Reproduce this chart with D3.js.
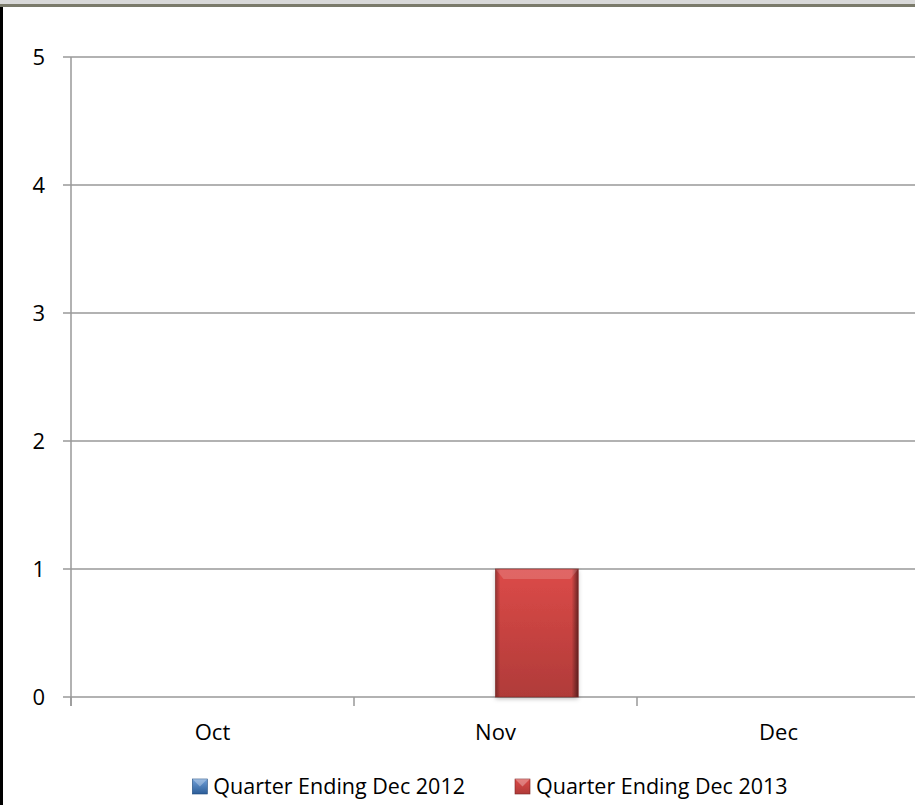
<!DOCTYPE html>
<html><head><meta charset="utf-8">
<script src="https://cdn.jsdelivr.net/npm/d3@7"></script>
<style>body{margin:0;background:#fff;} svg{display:block;}</style>
</head><body><svg id="c" width="915" height="805"></svg>
<script>
const categories = ["Oct","Nov","Dec"];
const seriesNames = ["Quarter Ending Dec 2012","Quarter Ending Dec 2013"];
const series2012 = [0,0,0];
const series2013 = [0,1,0];
const yTicks = [0,1,2,3,4,5];

const svg = d3.select("#c");
const font = "Open Sans, sans-serif";
const fs = 22;
// frame
svg.append("rect").attr("x",0).attr("y",0).attr("width",915).attr("height",4).attr("fill","#d9d9d9");
svg.append("rect").attr("x",0).attr("y",4).attr("width",915).attr("height",3).attr("fill","#7b7b6b");
svg.append("rect").attr("x",0).attr("y",7).attr("width",3).attr("height",798).attr("fill","#000");

const x0 = d3.scaleBand().domain(categories).range([71,920]);
const x1 = d3.scaleBand().domain([0,1]).range([0,x0.bandwidth()]).paddingInner(0).paddingOuter(0.71);
const y = d3.scaleLinear().domain([0,5]).range([697,57]);

const defs = svg.append("defs");
const colors = [{light:"#6f9fd8",dark:"#2c5d98",edge:"#1f4a7e"},{light:"#dc4a48",dark:"#b03b39",edge:"#7a2422"}];
colors.forEach((c,i)=>{
  const g = defs.append("linearGradient").attr("id","g"+i).attr("x1",0).attr("y1",0).attr("x2",0).attr("y2",1);
  g.append("stop").attr("offset","0%").attr("stop-color",c.light);
  g.append("stop").attr("offset","100%").attr("stop-color",c.dark);
  const h = defs.append("linearGradient").attr("id","h"+i).attr("x1",0).attr("y1",0).attr("x2",1).attr("y2",0);
  h.append("stop").attr("offset","0%").attr("stop-color","#000").attr("stop-opacity",0.3);
  h.append("stop").attr("offset","6%").attr("stop-color","#000").attr("stop-opacity",0);
  h.append("stop").attr("offset","92%").attr("stop-color","#000").attr("stop-opacity",0);
  h.append("stop").attr("offset","100%").attr("stop-color","#000").attr("stop-opacity",0.5);
});
const sh = defs.append("filter").attr("id","sh").attr("x","-20%").attr("y","-20%").attr("width","140%").attr("height","140%");
sh.append("feDropShadow").attr("dx",0).attr("dy",2).attr("stdDeviation",2).attr("flood-color","#000").attr("flood-opacity",0.25);

// gridlines
svg.append("g").selectAll("line").data(yTicks).join("line")
  .attr("x1",63).attr("x2",915).attr("y1",d=>y(d)).attr("y2",d=>y(d))
  .attr("stroke","#999").attr("stroke-width",1.5);
// y axis
svg.append("line").attr("x1",71).attr("x2",71).attr("y1",57).attr("y2",706).attr("stroke","#999").attr("stroke-width",1.5);
svg.append("g").selectAll("text").data(yTicks).join("text")
  .attr("x",45).attr("y",d=>y(d)).attr("dy","0.35em").attr("text-anchor","end")
  .attr("font-family",font).attr("font-size",fs).attr("fill","#000").text(d=>d);
// x ticks
const xt = categories.map(c=>x0(c));
svg.append("g").selectAll("line").data(xt).join("line")
  .attr("x1",d=>d).attr("x2",d=>d).attr("y1",697).attr("y2",706).attr("stroke","#999").attr("stroke-width",1.5);
svg.append("g").selectAll("text").data(categories).join("text")
  .attr("x",d=>x0(d)+x0.bandwidth()/2).attr("y",732).attr("dy","0.35em").attr("text-anchor","middle")
  .attr("font-family",font).attr("font-size",fs).attr("fill","#000").text(d=>d);

// bars
const data = [series2012, series2013];
data.forEach((vals,si)=>{
  const g = svg.append("g");
  vals.forEach((v,ci)=>{
    if(v<=0) return;
    const bx = x0(categories[ci]) + x1(si), bw = x1.bandwidth();
    const by = y(v), bh = y(0)-y(v);
    g.append("rect").attr("x",bx).attr("y",by).attr("width",bw).attr("height",bh).attr("fill","url(#g"+si+")").attr("filter","url(#sh)");
    g.append("rect").attr("x",bx).attr("y",by).attr("width",bw).attr("height",bh).attr("fill","url(#h"+si+")");
    g.append("path").attr("d",`M${bx},${by}L${bx+bw},${by}L${bx+bw-8},${by+10}L${bx+8},${by+10}Z`).attr("fill","#fff").attr("opacity",0.16);
    g.append("rect").attr("x",bx).attr("y",by).attr("width",bw).attr("height",bh).attr("fill","none").attr("stroke",colors[si].edge).attr("stroke-width",1).attr("opacity",0.6);
  });
});

// legend
const lg = svg.append("g");
const lfs = 21.5;
const items = seriesNames.map((name,i)=>{
  const t = lg.append("text").attr("y",786).attr("dy","0.35em").attr("font-family",font).attr("font-size",lfs).attr("fill","#000").text(name);
  return {name,i,t,w:t.node().getComputedTextLength()};
});
const mk = 15, gapM = 6, gapI = 50;
const total = items.reduce((s,d)=>s+mk+gapM+d.w,0)+gapI*(items.length-1);
let cx = 490 - total/2;
items.forEach(it=>{
  lg.append("rect").attr("x",cx).attr("y",779).attr("width",mk).attr("height",mk).attr("fill","url(#g"+it.i+")").attr("stroke",colors[it.i].edge).attr("stroke-width",0.6);
  lg.append("path").attr("d",`M${cx},779L${cx+mk},779L${cx+mk/2},${779+mk/2}Z`).attr("fill","#fff").attr("opacity",0.3);
  it.t.attr("x",cx+mk+gapM);
  cx += mk+gapM+it.w+gapI;
});
</script></body></html>
